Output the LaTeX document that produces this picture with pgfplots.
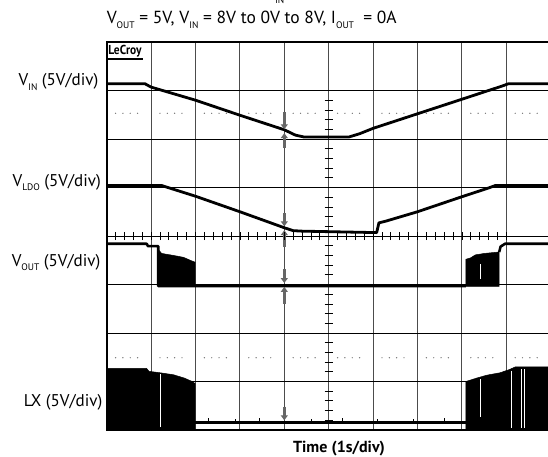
\documentclass[border=0pt]{standalone}
\usepackage{pgfplots}
\pgfplotsset{compat=1.18}
\usepackage{fontspec}
\setmainfont{PT Sans}
\usetikzlibrary{arrows.meta}
\newcommand{\sub}[1]{\raisebox{-0.24em}{\fontsize{9.5}{9.5}\selectfont #1}}
\begin{document}
\begin{tikzpicture}[x=1pt,y=1pt]
\useasboundingbox (0,0) rectangle (548,457);
% title (first line cut by the top edge)
\node[anchor=south west, inner sep=0, font=\fontsize{9.5}{9.5}\selectfont] at (275,453.5) {IN};
\node[anchor=base west, inner sep=0, font=\fontsize{17.5}{17.5}\selectfont] at (106.6,433) {V\sub{OUT} = 5V, V\sub{IN} = 8V to 0V to 8V, I\sub{OUT}\ \ = 0A};
% channel labels
\node[anchor=base east, inner sep=0, font=\fontsize{17}{17}\selectfont] at (98.5,371) {V\sub{IN} (5V/div)};
\node[anchor=base east, inner sep=0, font=\fontsize{17}{17}\selectfont] at (101,270.3) {V\sub{LDO} (5V/div)};
\node[anchor=base east, inner sep=0, font=\fontsize{17}{17}\selectfont] at (100.5,190.3) {V\sub{OUT} (5V/div)};
\node[anchor=base east, inner sep=0, font=\fontsize{17}{17}\selectfont] at (102.5,50.8) {LX (5V/div)};
\node[anchor=base, inner sep=0, font=\bfseries\fontsize{16}{16}\selectfont] at (339,4.5) {Time (1s/div)};

\begin{axis}[
  at={(106.7pt,27pt)}, anchor=south west,
  scale only axis, width=441.3pt, height=388pt,
  xmin=0, xmax=9.939, ymin=0, ymax=8,
  axis line style={draw=none},
  xtick={1,2,3,4,5,6,7,8,9}, ytick={1,2,3,4,5,6,7},
  xticklabels={}, yticklabels={},
  major tick length=0pt,
  xmajorgrids, ymajorgrids,
  x grid style={line width=0.9pt, black!70},
  y grid style={line width=0.9pt, black},
  clip=false,
]
% dotted reference lines
\addplot[black!55, line width=1.4pt, line cap=round, dash pattern=on 0pt off 7.33pt, unbounded coords=jump]
 coordinates {(0.2,6.53) (0.71,6.53) (0.9,nan) (1.2,6.53) (1.71,6.53) (1.9,nan) (2.2,6.53) (2.71,6.53) (2.9,nan)
 (3.2,6.53) (3.71,6.53) (3.9,nan) (4.2,6.53) (4.71,6.53) (4.9,nan) (5.2,6.53) (5.71,6.53) (5.9,nan)
 (6.2,6.53) (6.71,6.53) (6.9,nan) (7.2,6.53) (7.71,6.53) (7.9,nan) (8.2,6.53) (8.71,6.53) (8.9,nan) (9.2,6.53) (9.71,6.53)};
\addplot[black!55, line width=1.4pt, line cap=round, dash pattern=on 0pt off 7.33pt, unbounded coords=jump]
 coordinates {(0.2,1.49) (0.71,1.49) (0.9,nan) (1.2,1.49) (1.71,1.49) (1.9,nan) (2.2,1.49) (2.71,1.49) (2.9,nan)
 (3.2,1.49) (3.71,1.49) (3.9,nan) (4.2,1.49) (4.71,1.49) (4.9,nan) (5.2,1.49) (5.71,1.49) (5.9,nan)
 (6.2,1.49) (6.71,1.49) (6.9,nan) (7.2,1.49) (7.71,1.49) (7.9,nan) (8.2,1.49) (8.71,1.49) (8.9,nan) (9.2,1.49) (9.71,1.49)};

% V_IN
\addplot[black, line width=2.8pt, line join=round] coordinates {(0,7.14) (0.86,7.14) (1.0,7.07) (2.0,6.8) (3.0,6.49) (4.0,6.19) (4.25,6.08) (4.45,6.04) (5.45,6.04) (5.7,6.11) (6.0,6.22) (7.0,6.52) (8.0,6.82) (8.9,7.09) (9.05,7.14) (9.939,7.14)};
% V_LDO
\addplot[black, line width=2.8pt, line join=round] coordinates {(0,5.04) (1.24,5.04) (2.0,4.82) (3.0,4.5) (4.0,4.17) (4.2,4.11) (4.4,4.1) (6.08,4.07) (6.13,4.27) (6.3,4.31) (7.0,4.5) (8.0,4.81) (8.6,4.99) (8.75,5.04) (9.939,5.04)};
% V_OUT
\addplot[black, line width=2.6pt, line join=round] coordinates {(0,3.84) (0.9,3.84) (0.93,3.79) (1.16,3.79) (1.16,2.97) (8.09,2.97)};
\addplot[black, line width=2.6pt, line join=round] coordinates {(8.84,3.67) (8.87,3.78) (8.97,3.84) (9.939,3.84)};
\addplot[fill=black, draw=black, line width=0.5pt] coordinates {(1.16,2.96) (1.16,3.72) (1.24,3.64) (1.5,3.6) (1.73,3.56) (1.88,3.5) (1.99,3.46) (1.99,2.96)} --cycle;
\addplot[fill=black, draw=black, line width=0.5pt] coordinates {(8.09,2.96) (8.09,3.52) (8.2,3.55) (8.3,3.61) (8.5,3.64) (8.84,3.67) (8.84,2.96)} --cycle;
\addplot[white, line width=0.9pt] coordinates {(8.41,3.12) (8.41,3.42)};
% LX
\addplot[fill=black, draw=black, line width=0.5pt] coordinates {(0,0) (0,1.27) (0.9,1.27) (0.95,1.21) (1.2,1.18) (1.5,1.14) (1.75,1.07) (1.9,1.01) (1.99,0.96) (1.99,0)} --cycle;
\addplot[fill=black, draw=black, line width=0.5pt] coordinates {(8.09,0) (8.09,1.0) (8.33,1.07) (8.56,1.13) (8.86,1.18) (9.08,1.25) (9.2,1.3) (9.939,1.3) (9.939,0)} --cycle;
\addplot[black, line width=3.4pt] coordinates {(1.99,0.15) (8.09,0.15)};
\addplot[black, line width=0.8pt, unbounded coords=jump] coordinates {(2.3,0.15) (2.3,0.24) (2.4,nan) (2.9,0.15) (2.9,0.23) (3.0,nan) (3.45,0.15) (3.45,0.24) (3.5,nan) (4.6,0.15) (4.6,0.23) (4.7,nan) (5.3,0.15) (5.3,0.24) (5.4,nan) (6.1,0.15) (6.1,0.23) (6.2,nan) (6.9,0.15) (6.9,0.22) (7.0,nan) (7.6,0.15) (7.6,0.24)};
\addplot[white, line width=0.9pt, unbounded coords=jump] coordinates {(1.22,0.06) (1.22,1.15) (1.3,nan) (8.41,0.27) (8.41,1.05) (8.5,nan) (9.12,0.05) (9.12,1.22) (9.2,nan) (9.35,0.05) (9.35,1.25) (9.38,nan) (9.41,0.05) (9.41,1.25)};

% ground markers
\addplot[black!60, line width=3.5pt, -{Triangle[width=7pt,length=5pt]}] coordinates {(4,6.56) (4,6.2)};
\addplot[black!60, line width=3.5pt, -{Triangle[width=7pt,length=5pt]}] coordinates {(4,5.81) (4,6.12)};
\addplot[black!60, line width=3.5pt, -{Triangle[width=7pt,length=5pt]}] coordinates {(4,4.47) (4,4.2)};
\addplot[black!60, line width=3.5pt, -{Triangle[width=7pt,length=5pt]}] coordinates {(4,3.77) (4,4.12)};
\addplot[black!60, line width=3.5pt, -{Triangle[width=7pt,length=5pt]}] coordinates {(4,3.31) (4,3.03)};
\addplot[black!60, line width=3.5pt, -{Triangle[width=7pt,length=5pt]}] coordinates {(4,2.6) (4,2.95)};
\addplot[black!60, line width=3.5pt, -{Triangle[width=7pt,length=5pt]}] coordinates {(4,0.48) (4,0.2)};

% frame (left, top, bottom)
\draw[line width=1.8pt] (rel axis cs:1.01,1) -- (rel axis cs:0,1) -- (rel axis cs:0,0) -- (rel axis cs:1.01,0);
% LeCroy logo
\node[anchor=north west, inner sep=0, font=\bfseries\fontsize{13}{13}\selectfont] at (axis cs:0.035,7.93) {\scalebox{0.88}[1]{LeCroy}};
\fill (axis cs:0.03,7.67) rectangle (axis cs:0.82,7.63);
\end{axis}

% center graticule with minor ticks
\begin{axis}[
  at={(106.7pt,27pt)}, anchor=south west,
  scale only axis, width=441.3pt, height=388pt,
  xmin=-5, xmax=4.939, ymin=-4, ymax=4,
  axis lines=middle,
  axis line style={draw=none},
  xtick={-5,-4,-3,-2,-1,0,1,2,3,4}, ytick={-4,-3,-2,-1,0,1,2,3},
  minor x tick num=4, minor y tick num=4,
  xticklabels={}, yticklabels={},
  tick align=center,
  major tick length=8pt, minor tick length=8pt,
  tick style={black, line width=0.8pt},
]
\end{axis}
\end{tikzpicture}
\end{document}
